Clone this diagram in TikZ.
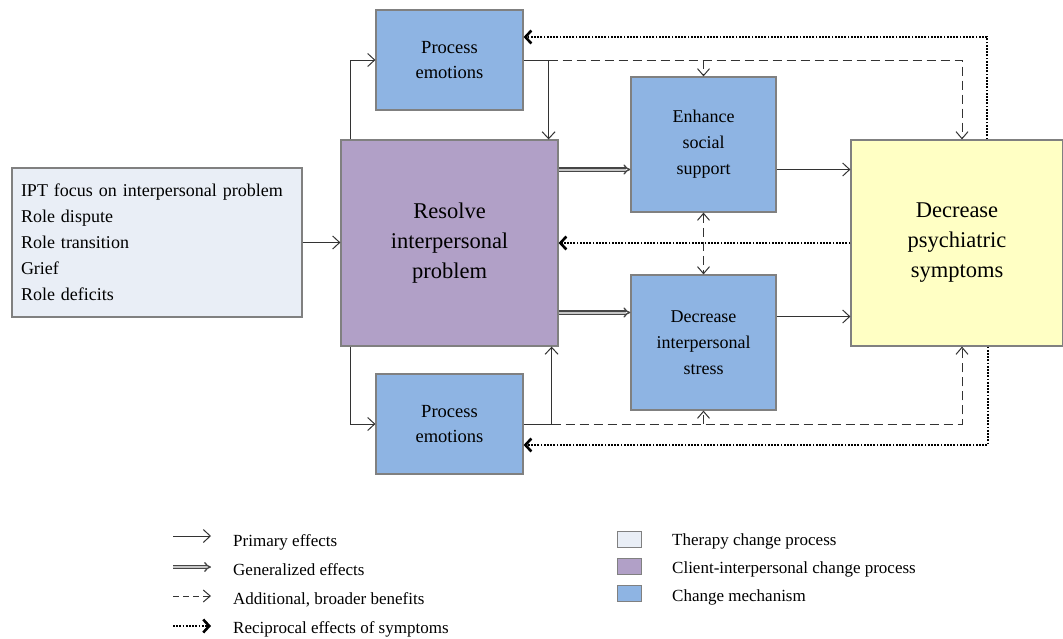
\documentclass[tikz,border=0pt]{standalone}
\usepackage{fontspec}
\setmainfont{Liberation Serif}
\usetikzlibrary{arrows.meta,calc}
\definecolor{iptfill}{HTML}{E9EEF6}
\definecolor{purp}{HTML}{B1A0C7}
\definecolor{mech}{HTML}{8EB4E3}
\definecolor{yel}{HTML}{FFFFC4}
\definecolor{bord}{HTML}{808080}
\definecolor{ln}{HTML}{333333}
\tikzset{
  box/.style={draw=bord, line width=1.2pt, inner sep=0pt, align=center, text=black},
  smalltxt/.style={font=\fontsize{18.5}{25}\selectfont},
  bigtxt/.style={font=\fontsize{22.5}{30}\selectfont},
  prim/.style={draw=ln, line width=1pt, -{Straight Barb[length=7pt,width=13pt]}},
  dashA/.style={draw=ln, line width=1pt, dash pattern=on 9pt off 5pt, -{Straight Barb[length=7pt,width=12pt]}},
  recip/.style={draw=black, line width=2.6pt, dash pattern=on 1.8pt off 1.4pt, -{Straight Barb[length=6pt,width=13pt,line width=2.6pt]}},
  gen/.style={draw=gray!55!black, double=gray!45, double distance=2pt, line width=1.3pt, -{Implies[length=5pt]}},
  legtxt/.style={anchor=base west, inner sep=0pt, font=\fontsize{17}{20}\selectfont},
  legbox/.style={draw=bord, line width=1pt, minimum width=24pt, minimum height=16pt, inner sep=0pt}
}
\begin{document}
\begin{tikzpicture}[x=1pt,y=-1pt]
\useasboundingbox (0,0) rectangle (1063,638);
% boxes
\node[box, fill=iptfill, minimum height=149pt, text width=272pt, inner xsep=9pt, align=left,
      font=\fontsize{18}{26}\selectfont] (ipt) at (157,242.5)
  {IPT focus on interpersonal problem\\Role dispute\\Role transition\\Grief\\Role deficits};
\node[box, fill=purp, minimum width=217pt, minimum height=206pt, bigtxt] (res) at (449.5,243)
  {Resolve\\interpersonal\\problem};
\node[box, fill=mech, minimum width=147pt, minimum height=100pt, smalltxt] (pe1) at (449.5,60)
  {Process\\emotions};
\node[box, fill=mech, minimum width=147pt, minimum height=100pt, smalltxt] (pe2) at (449.5,424)
  {Process\\emotions};
\node[box, fill=mech, minimum width=145pt, minimum height=135pt, font=\fontsize{18}{26}\selectfont] (ess) at (703.5,144.5)
  {Enhance\\social\\support};
\node[box, fill=mech, minimum width=145pt, minimum height=135pt, font=\fontsize{18}{26}\selectfont] (dis) at (703.5,342.5)
  {Decrease\\interpersonal\\stress};
\node[box, fill=yel, minimum width=212pt, minimum height=206pt, bigtxt] (psy) at (957,243)
  {Decrease\\psychiatric\\symptoms};

% primary
\draw[prim] (ipt.east) -- (res.west |- ipt.east);
\draw[prim] ([xshift=10pt]res.north west) |- (pe1.west);
\draw[prim] (pe1.east) -| ([xshift=-10pt]res.north east);
\draw[prim] ([xshift=10pt]res.south west) |- (pe2.west);
\draw[prim] (pe2.east) -| ([xshift=-7pt]res.south east);
\path ([yshift=-25pt]ess.west) coordinate (g1);
\path ([yshift=30pt]dis.west) coordinate (g2);
\path ([yshift=26pt]dis.west) coordinate (p2);
\draw[prim] (g1 -| ess.east) -- (g1 -| psy.west);
\draw[prim] (p2 -| dis.east) -- (p2 -| psy.west);
% generalized
\draw[gen] (g1 -| res.east) -- (g1);
\draw[gen] (g2 -| res.east) -- (g2);
% dashed
\coordinate (t1) at ([xshift=-10pt]res.north east |- pe1.east);
\coordinate (t2) at ([xshift=-7pt]res.south east |- pe2.east);
\draw[dashA] (t1) -| ([xshift=5pt]psy.north);
\draw[dashA] (t1 -| ess.north) -- (ess.north);
\draw[dashA] (t2) -| ([xshift=5pt]psy.south);
\draw[dashA] (t2 -| dis.south) -- (dis.south);
\draw[dashA, {Straight Barb[length=7pt,width=12pt]}-{Straight Barb[length=7pt,width=12pt]}] (ess.south) -- (dis.north);
% reciprocal
\draw[recip] ([xshift=30pt]psy.north) |- ([yshift=23pt]pe1.east);
\draw[recip] (psy.west) -- (res.east);
\draw[recip] ([xshift=31pt]psy.south) |- ([yshift=-21pt]pe2.east);

% legend
\coordinate (la1) at (173,536); \coordinate (lb1) at (211,536);
\coordinate (la2) at (173,567); \coordinate (lb2) at (211,567);
\coordinate (la3) at (173,596); \coordinate (lb3) at (211,596);
\coordinate (la4) at (173,626); \coordinate (lb4) at (211,626);
\draw[prim] (la1) -- (lb1);
\draw[gen] (la2) -- (lb2);
\draw[dashA, dash pattern=on 6pt off 4pt] (la3) -- (lb3);
\draw[recip] (la4) -- (lb4);
\node[legtxt] (lt1) at (233,546) {Primary effects};
\node[legtxt] (lt2) at (233,575) {Generalized effects};
\node[legtxt] (lt3) at (233,604) {Additional, broader benefits};
\node[legtxt] (lt4) at (233,633) {Reciprocal effects of symptoms};
\node[legbox, fill=iptfill] (sq1) at (629,539) {};
\node[legbox, fill=purp] (sq2) at (629,566) {};
\node[legbox, fill=mech] (sq3) at (629,593) {};
\node[legtxt] (rt1) at (672,545) {Therapy change process};
\node[legtxt] (rt2) at (672,573) {Client-interpersonal change process};
\node[legtxt] (rt3) at (672,601) {Change mechanism};
\end{tikzpicture}
\end{document}
